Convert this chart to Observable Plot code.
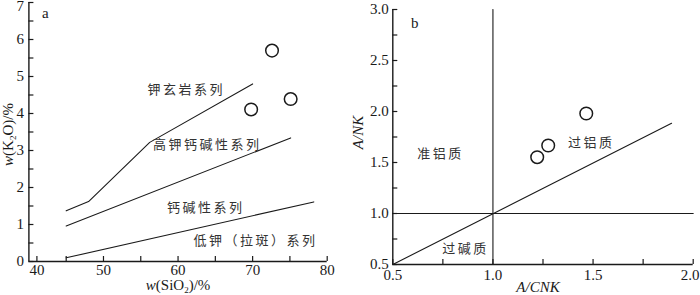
<!DOCTYPE html>
<html><head><meta charset="utf-8">
<script src="https://cdn.jsdelivr.net/npm/d3@7"></script>
<script src="https://cdn.jsdelivr.net/npm/@observablehq/plot@0.6"></script>
<style>
body{margin:0;background:#fff}
#wrap{position:relative;width:700px;height:295px;overflow:hidden}
#wrap svg{position:absolute;top:0}
</style>
</head><body><div id="wrap"></div>
<script>
// ---------- Panel a: K2O vs SiO2 ----------
const shoshoniteBoundarySiO2 = [45, 48, 56.2, 70];
const shoshoniteBoundaryK2O = [1.37, 1.62, 3.22, 4.8];
const highKBoundarySiO2 = [45, 75.1];
const highKBoundaryK2O = [0.96, 3.34];
const calcAlkBoundarySiO2 = [45, 78.2];
const calcAlkBoundaryK2O = [0.1, 1.61];
const sampleSiO2 = [69.8, 72.6, 75.1];
const sampleK2O = [4.11, 5.70, 4.39];
const seriesNames = ["钾玄岩系列", "高钾钙碱性系列", "钙碱性系列", "低钾（拉斑）系列"];
const seriesNameSiO2 = [61.1, 63.9, 63.7, 70.4];
const seriesNameK2O = [4.65, 3.14, 1.45, 0.57];
const xTickLabelsA = [40, 50, 60, 70, 80];
const yTickLabelsA = [0, 1, 2, 3, 4, 5, 6, 7];

// ---------- Panel b: A/NK vs A/CNK ----------
const verticalDivACNK = [1.0, 1.0];
const verticalDivANK = [0.5, 3.0];
const horizontalDivACNK = [0.5, 2.0];
const horizontalDivANK = [1.0, 1.0];
const diagonalACNK = [0.5, 1.892];
const diagonalANK = [0.5, 1.885];
const sampleACNK = [1.221, 1.276, 1.466];
const sampleANK = [1.552, 1.667, 1.980];
const fieldNames = ["准铝质", "过铝质", "过碱质"];
const fieldACNK = [0.738, 1.491, 0.863];
const fieldANK = [1.588, 1.689, 0.654];
const xTickLabelsB = [0.5, 1.0, 1.5, 2.0];
const yTickLabelsB = [0.5, 1.0, 1.5, 2.0, 2.5, 3.0];

const zip = (xs, ys) => xs.map((x, i) => ({x, y: ys[i]}));
const ink = "#1a1a1a";
const serif = "Liberation Serif, Times New Roman, serif";
const cjk = "Noto Sans CJK SC, sans-serif";

function build({width, height, mt, mb, ml, mr, xDomain, yDomain, xMajor, yMajor, xMinorStep, yMinorStep, firstXShift, lastXShift, topYShift,
                lines, dots, labels, tag, tagPos, xTitle, yTitle, xTitleDx, xTitleDy, yTitleDx, yTitleDy, tickFmt, xPad, yPad}) {
  const fw = width - ml - mr, fh = height - mt - mb;
  const xAll = d3.range(xDomain[0], xDomain[1] + 1e-9, xMinorStep);
  const yAll = d3.range(yDomain[0], yDomain[1] + 1e-9, yMinorStep);
  const axisOpts = {tickSize: 0, fontSize: 15, fontFamily: serif, fill: ink, tickFormat: tickFmt, label: null, tickPadding: xPad};
  const n = xMajor.length, m = yMajor.length;
  const marks = [
    ...lines.map(l => Plot.line(l, {x: "x", y: "y", stroke: ink, strokeWidth: 1.1})),
    Plot.ruleY([yDomain[0]], {stroke: ink, strokeWidth: 1.4}),
    Plot.ruleX([xDomain[0]], {stroke: ink, strokeWidth: 1.4}),
    Plot.tickX(xAll.slice(1), {x: d => d, insetTop: fh - 5, stroke: ink, strokeWidth: 1.2}),
    Plot.tickX(xAll.slice(0, 1), {x: d => d, dx: firstXShift, insetTop: fh - 5, stroke: ink, strokeWidth: 1.2}),
    Plot.tickY(yAll, {y: d => d, insetRight: fw - 5, stroke: ink, strokeWidth: 1.2}),
    Plot.axisX(xMajor.slice(0, 1), {...axisOpts, dx: firstXShift}),
    Plot.axisX(xMajor.slice(1, n - 1), {...axisOpts}),
    Plot.axisX(xMajor.slice(n - 1), {...axisOpts, dx: lastXShift}),
    Plot.axisY(yMajor.slice(0, m - 1), {...axisOpts, tickPadding: yPad}),
    Plot.axisY(yMajor.slice(m - 1), {...axisOpts, tickPadding: yPad, dy: topYShift}),
    Plot.dot(dots, {x: "x", y: "y", r: 6.3, stroke: ink, strokeWidth: 1.5, fill: "white"}),
    Plot.text(labels, {x: "x", y: "y", text: "t", fontFamily: cjk, fontSize: 13, fill: "#333"}),
    Plot.text([tag], {x: tagPos[0], y: tagPos[1], text: d => d, fontFamily: serif, fontSize: 15, fill: ink}),
    Plot.text([xTitle], {frameAnchor: "bottom", textAnchor: "middle", lineAnchor: "middle", dx: xTitleDx, dy: xTitleDy, text: d => d, fontFamily: serif, fontSize: 15, fill: ink}),
    Plot.text([yTitle], {frameAnchor: "left", textAnchor: "middle", lineAnchor: "middle", dx: yTitleDx, dy: yTitleDy, rotate: -90, text: d => d, fontFamily: serif, fontSize: 15, fill: ink})
  ];
  return Plot.plot({
    width, height, marginTop: mt, marginBottom: mb, marginLeft: ml, marginRight: mr,
    x: {domain: xDomain}, y: {domain: yDomain},
    style: {background: "white", color: ink, overflow: "visible"},
    marks
  });
}

const svgA = build({
  width: 350, height: 295, mt: 2, mb: 34, ml: 28.4, mr: 23.3,
  xDomain: [40, 80], yDomain: [0, 7], xMajor: xTickLabelsA, yMajor: yTickLabelsA, xMinorStep: 5, yMinorStep: 0.5, firstXShift: 8, lastXShift: 0, topYShift: 4,
  lines: [zip(shoshoniteBoundarySiO2, shoshoniteBoundaryK2O), zip(highKBoundarySiO2, highKBoundaryK2O), zip(calcAlkBoundarySiO2, calcAlkBoundaryK2O)],
  dots: zip(sampleSiO2, sampleK2O),
  labels: seriesNames.map((t, i) => ({t, x: seriesNameSiO2[i], y: seriesNameK2O[i]})),
  tag: "a", tagPos: [42.2, 6.71],
  xTitle: "TITLE_AX", yTitle: "TITLE_AY",
  xTitleDx: 0, xTitleDy: 24, yTitleDx: -21, yTitleDy: 2.5,
  tickFmt: d => String(d), xPad: 3, yPad: 5
});
const svgB = build({
  width: 350, height: 295, mt: 9, mb: 31, ml: 42.3, mr: 7.3,
  xDomain: [0.5, 2.0], yDomain: [0.5, 3.0], xMajor: xTickLabelsB, yMajor: yTickLabelsB, xMinorStep: 0.25, yMinorStep: 0.25, firstXShift: 0, lastXShift: -3, topYShift: 0,
  lines: [zip(verticalDivACNK, verticalDivANK), zip(horizontalDivACNK, horizontalDivANK), zip(diagonalACNK, diagonalANK)],
  dots: zip(sampleACNK, sampleANK),
  labels: fieldNames.map((t, i) => ({t, x: fieldACNK[i], y: fieldANK[i]})),
  tag: "b", tagPos: [0.61, 2.87],
  xTitle: "TITLE_BX", yTitle: "TITLE_BY",
  xTitleDx: -5, xTitleDy: 23, yTitleDx: -35, yTitleDy: -4.5,
  tickFmt: d3.format(".1f"), xPad: 5, yPad: 4
});

function richTitle(svg, key, parts) {
  d3.select(svg).selectAll("text").filter(function(){ return this.textContent === key; }).each(function(){
    const t = d3.select(this);
    t.text(null);
    let shifted = false;
    for (const p of parts) {
      const s = t.append("tspan").text(p.s);
      if (p.i) s.attr("font-style", "italic");
      if (p.sub) { s.attr("font-size", 9).attr("dy", 3); shifted = true; }
      else if (shifted) { s.attr("dy", -3); shifted = false; }
    }
  });
}
richTitle(svgA, "TITLE_AX", [{s: "w", i: true}, {s: "(SiO"}, {s: "2", sub: true}, {s: ")/%"}]);
richTitle(svgA, "TITLE_AY", [{s: "w", i: true}, {s: "(K"}, {s: "2", sub: true}, {s: "O)/%"}]);
richTitle(svgB, "TITLE_BX", [{s: "A/CNK", i: true}]);
richTitle(svgB, "TITLE_BY", [{s: "A/NK", i: true}]);

for (const svg of [svgA, svgB]) {
  d3.select(svg).selectAll("text").filter(function(){ return /[\u4e00-\u9fff]/.test(this.textContent); })
    .attr("letter-spacing", "2.5px");
}

const wrap = document.getElementById("wrap");
svgA.style.left = "0px";
svgB.style.left = "350px";
wrap.appendChild(svgA);
wrap.appendChild(svgB);
</script>
</body></html>
